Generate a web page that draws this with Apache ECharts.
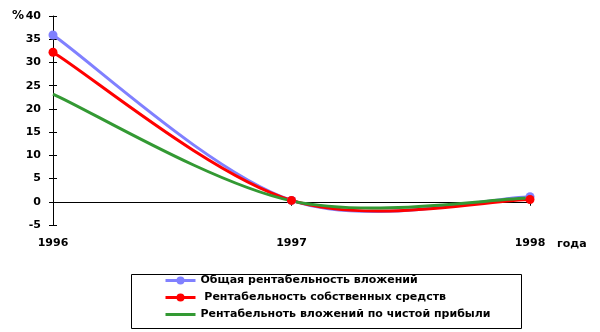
<!DOCTYPE html>
<html><head><meta charset="utf-8">
<script src="https://cdn.jsdelivr.net/npm/echarts@6/dist/echarts.min.js"></script>
<style>html,body{margin:0;padding:0;background:#fff}#c{width:600px;height:332px}</style>
</head><body><div id="c"></div>
<script>
const years = ['1996', '1997', '1998'];
const seriesNames = ['Общая рентабельность вложений', ' Рентабельность собственных средств', 'Рентабельнoть вложений по чистой прибыли'];
const totalReturn = [35.9, 0.3, 1.1];
const equityReturn = [32.2, 0.3, 0.5];
const netProfitReturn = [23.2, 0.2, 0.8];
const yMin = -5, yMax = 40, yStep = 5;

const colors = ['#8080ff', '#ff0000', '#339933'];
const font = 'DejaVu Sans';
const chart = echarts.init(document.getElementById('c'), null, {renderer: 'canvas'});

// Excel-like smoothed curve (Catmull-Rom -> Bezier) through the data points, positioned via api.coord
function smoothCurve(values, color, z) {
  return {
    type: 'custom', name: '_curve' + z, silent: true, z,
    data: values.map((v, i) => [i, v]),
    renderItem(params, api) {
      if (params.dataIndex !== 0) return null;
      const P = values.map((v, i) => api.coord([i, v]));
      const n = P.length, children = [];
      for (let i = 0; i < n - 1; i++) {
        const p0 = P[Math.max(i - 1, 0)], p1 = P[i], p2 = P[i + 1], p3 = P[Math.min(i + 2, n - 1)];
        children.push({
          type: 'bezierCurve',
          shape: {
            x1: p1[0], y1: p1[1], x2: p2[0], y2: p2[1],
            cpx1: p1[0] + (p2[0] - p0[0]) / 6, cpy1: p1[1] + (p2[1] - p0[1]) / 6,
            cpx2: p2[0] - (p3[0] - p1[0]) / 6, cpy2: p2[1] - (p3[1] - p1[1]) / 6
          },
          style: {stroke: color, lineWidth: 3, fill: null}
        });
      }
      return {type: 'group', children};
    }
  };
}
const mk = (name, data, color, marker) => ({
  name, type: 'line', data, xAxisIndex: 0,
  symbol: marker ? 'circle' : 'none', symbolSize: 9, showSymbol: marker,
  lineStyle: {color, width: 3, opacity: 0}, itemStyle: {color}, z: 5
});
chart.setOption({
  animation: false,
  textStyle: {fontFamily: font},
  grid: {left: 53, right: 70, top: 16, bottom: 107},
  xAxis: [
    {type: 'category', data: years, boundaryGap: false,
      axisLine: {onZero: true, lineStyle: {color: '#000', width: 1}},
      axisTick: {show: true, length: 4, lineStyle: {color: '#000'}, alignWithLabel: true},
      axisLabel: {show: false}, splitLine: {show: false}},
    {type: 'category', data: years, boundaryGap: false, position: 'bottom',
      axisLine: {show: false, onZero: false}, axisTick: {show: false},
      axisLabel: {show: true, margin: 13, color: '#000', fontWeight: 'bold', fontSize: 11, fontFamily: font}}
  ],
  yAxis: [
    {type: 'value', min: yMin, max: yMax, interval: yStep,
      axisLine: {show: true, lineStyle: {color: '#000', width: 1}},
      axisTick: {show: true, length: 4, lineStyle: {color: '#000'}},
      axisLabel: {color: '#000', fontWeight: 'bold', fontSize: 11, margin: 12, fontFamily: font},
      splitLine: {show: false}},
    {type: 'value', min: yMin, max: yMax, interval: yStep, position: 'left',
      axisLine: {show: false}, axisLabel: {show: false}, splitLine: {show: false},
      axisTick: {show: true, inside: true, length: 4, lineStyle: {color: '#000'}}}
  ],
  legend: {
    orient: 'vertical', left: 159, top: 270, itemGap: 6, itemWidth: 30, itemHeight: 10,
    textStyle: {color: '#000', fontWeight: 'bold', fontSize: 11, fontFamily: font},
    data: seriesNames.map((n, i) => {
      const d = {name: n, lineStyle: {opacity: 1, color: colors[i], width: 3}};
      if (i === 2) d.itemStyle = {opacity: 0};
      return d;
    })
  },
  graphic: [
    {type: 'rect', left: 129, top: 272, shape: {width: 390, height: 54}, style: {fill: 'none', stroke: '#000', lineWidth: 1}, z: 0},
    {type: 'text', left: 12, top: 10, style: {text: '%', font: 'bold 12px DejaVu Sans', fill: '#000'}},
    {type: 'text', left: 557, top: 239, style: {text: 'года', font: 'bold 11px DejaVu Sans', fill: '#000'}}
  ],
  series: [
    smoothCurve(totalReturn, colors[0], 2),
    smoothCurve(equityReturn, colors[1], 3),
    smoothCurve(netProfitReturn, colors[2], 4),
    mk(seriesNames[0], totalReturn, colors[0], true),
    mk(seriesNames[1], equityReturn, colors[1], true),
    mk(seriesNames[2], netProfitReturn, colors[2], false)
  ]
});
</script></body></html>
